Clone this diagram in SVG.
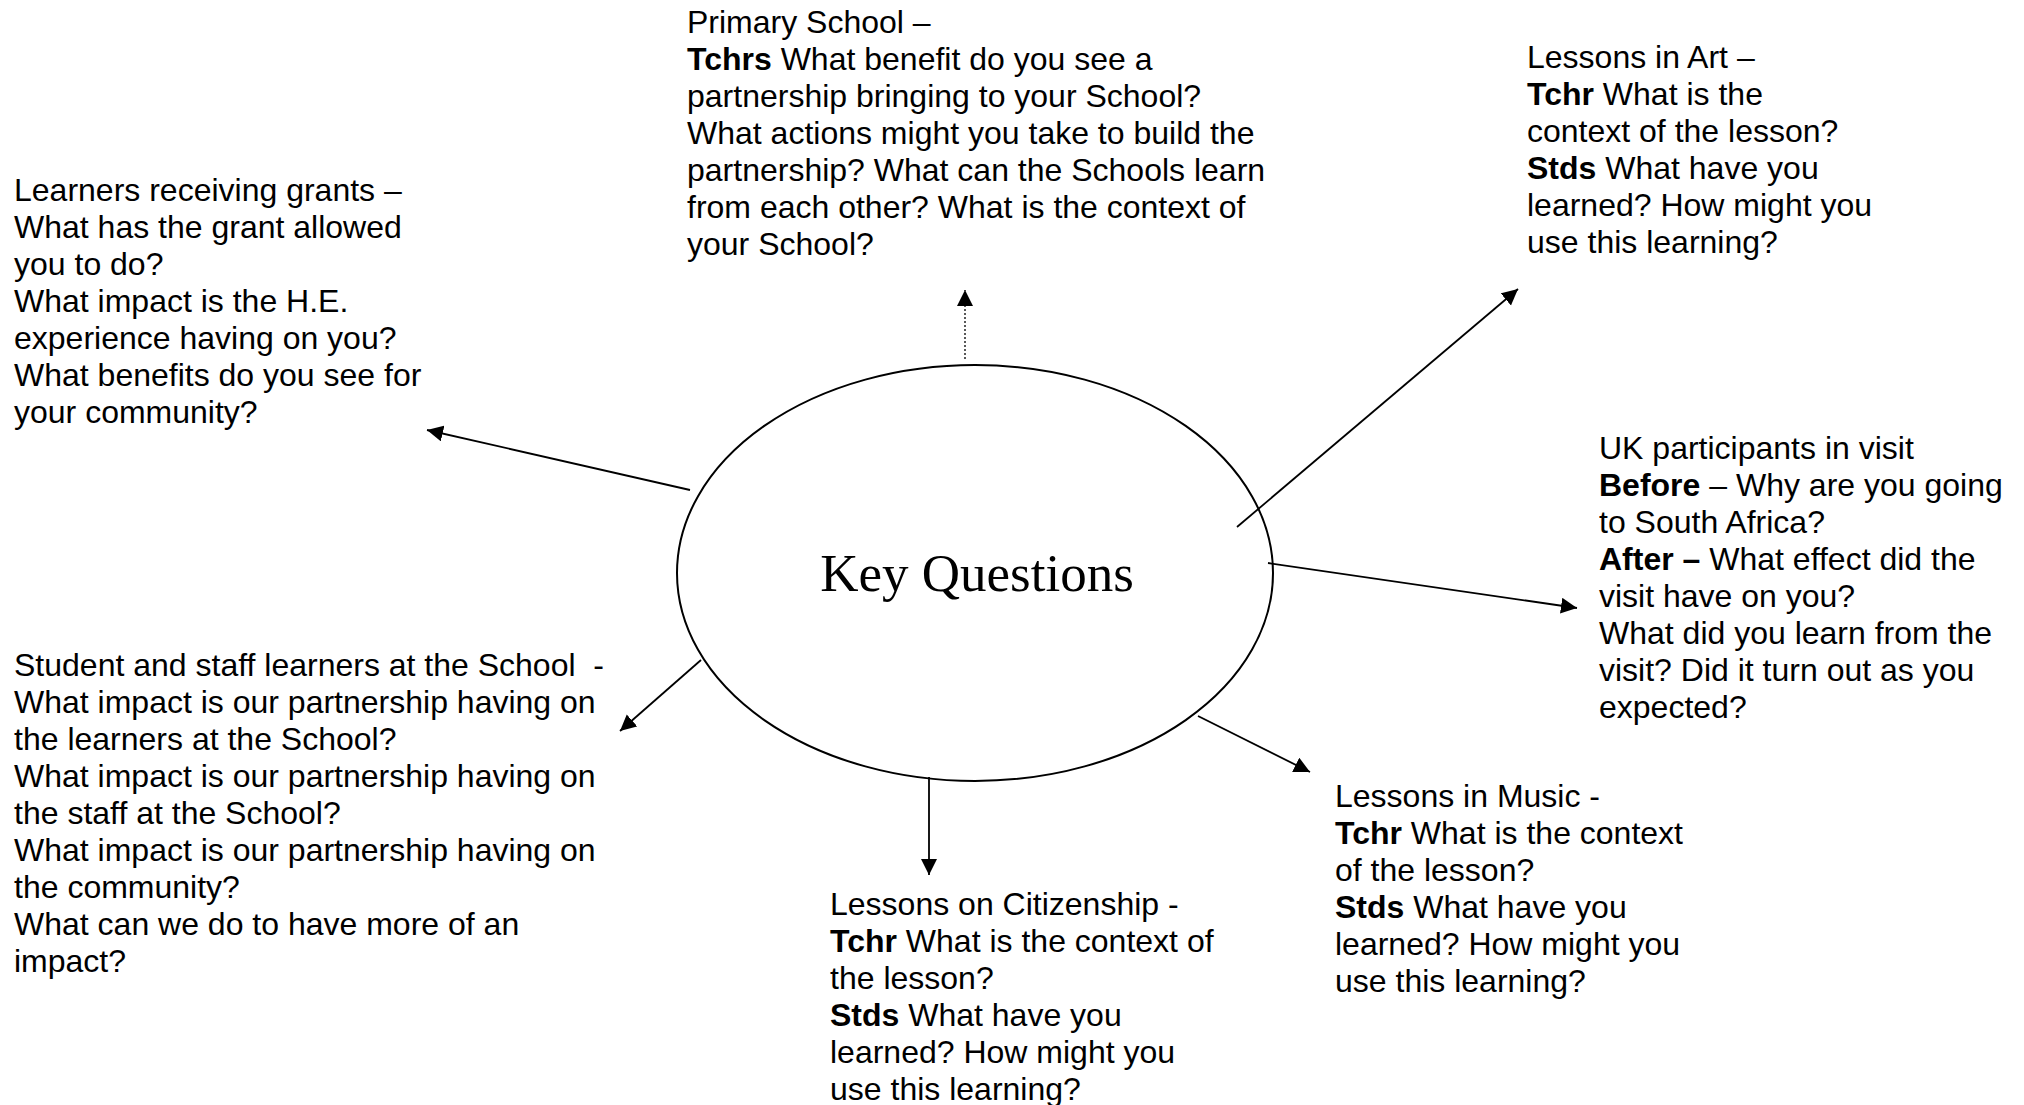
<svg xmlns="http://www.w3.org/2000/svg" width="2024" height="1105" viewBox="0 0 2024 1105">
<style>
.t{font-family:"Liberation Sans",Arial,sans-serif;font-size:32px;fill:#000}
.b{font-weight:bold}
.c{stroke:#000;stroke-width:1.8;fill:none}
.d{stroke:#000;stroke-width:1.3;fill:none;stroke-dasharray:2 2}
.k{font-family:"Liberation Serif","Times New Roman",serif;font-size:53px;fill:#000}
</style>
<defs>
<marker id="ah" markerUnits="userSpaceOnUse" markerWidth="17" markerHeight="17" refX="16" refY="8" orient="auto">
<path d="M0,0 L16,8 L0,16 z" fill="#000"/>
</marker>
</defs>
<rect width="2024" height="1105" fill="#fff"/>
<g id="connectors">
<line class="d" x1="965" y1="359" x2="965" y2="290" marker-end="url(#ah)"/>
<line class="c" x1="690" y1="490" x2="427" y2="430" marker-end="url(#ah)"/>
<line class="c" x1="1237" y1="527" x2="1518" y2="289" marker-end="url(#ah)"/>
<line class="c" x1="1268" y1="563" x2="1577" y2="608" marker-end="url(#ah)"/>
<line class="c" x1="1198" y1="716" x2="1310" y2="772" marker-end="url(#ah)"/>
<line class="c" x1="929" y1="777" x2="929" y2="875" marker-end="url(#ah)"/>
<line class="c" x1="701" y1="660" x2="620" y2="731" marker-end="url(#ah)"/>
</g>
<g id="key-questions">
<ellipse cx="975" cy="573" rx="298" ry="208" fill="none" stroke="#000" stroke-width="2"/>
<text class="k" x="977" y="591" text-anchor="middle">Key Questions</text>
</g>
<g id="primary-school">
<text class="t" x="687" y="33">Primary School –</text>
<text class="t" x="687" y="70"><tspan class="b">Tchrs</tspan> What benefit do you see a</text>
<text class="t" x="687" y="107">partnership bringing to your School?</text>
<text class="t" x="687" y="144">What actions might you take to build the</text>
<text class="t" x="687" y="181">partnership? What can the Schools learn</text>
<text class="t" x="687" y="218">from each other? What is the context of</text>
<text class="t" x="687" y="255">your School?</text>
</g>
<g id="lessons-art">
<text class="t" x="1527" y="68">Lessons in Art –</text>
<text class="t" x="1527" y="105"><tspan class="b">Tchr</tspan> What is the</text>
<text class="t" x="1527" y="142">context of the lesson?</text>
<text class="t" x="1527" y="179"><tspan class="b">Stds</tspan> What have you</text>
<text class="t" x="1527" y="216">learned? How might you</text>
<text class="t" x="1527" y="253">use this learning?</text>
</g>
<g id="learners-grants">
<text class="t" x="14" y="201">Learners receiving grants –</text>
<text class="t" x="14" y="238">What has the grant allowed</text>
<text class="t" x="14" y="275">you to do?</text>
<text class="t" x="14" y="312">What impact is the H.E.</text>
<text class="t" x="14" y="349">experience having on you?</text>
<text class="t" x="14" y="386">What benefits do you see for</text>
<text class="t" x="14" y="423">your community?</text>
</g>
<g id="uk-participants">
<text class="t" x="1599" y="459">UK participants in visit</text>
<text class="t" x="1599" y="496"><tspan class="b">Before</tspan> – Why are you going</text>
<text class="t" x="1599" y="533">to South Africa?</text>
<text class="t" x="1599" y="570"><tspan class="b">After –</tspan> What effect did the</text>
<text class="t" x="1599" y="607">visit have on you?</text>
<text class="t" x="1599" y="644">What did you learn from the</text>
<text class="t" x="1599" y="681">visit? Did it turn out as you</text>
<text class="t" x="1599" y="718">expected?</text>
</g>
<g id="student-staff">
<text class="t" x="14" y="676" xml:space="preserve">Student and staff learners at the School  -</text>
<text class="t" x="14" y="713">What impact is our partnership having on</text>
<text class="t" x="14" y="750">the learners at the School?</text>
<text class="t" x="14" y="787">What impact is our partnership having on</text>
<text class="t" x="14" y="824">the staff at the School?</text>
<text class="t" x="14" y="861">What impact is our partnership having on</text>
<text class="t" x="14" y="898">the community?</text>
<text class="t" x="14" y="935">What can we do to have more of an</text>
<text class="t" x="14" y="972">impact?</text>
</g>
<g id="lessons-music">
<text class="t" x="1335" y="807">Lessons in Music -</text>
<text class="t" x="1335" y="844"><tspan class="b">Tchr</tspan> What is the context</text>
<text class="t" x="1335" y="881">of the lesson?</text>
<text class="t" x="1335" y="918"><tspan class="b">Stds</tspan> What have you</text>
<text class="t" x="1335" y="955">learned? How might you</text>
<text class="t" x="1335" y="992">use this learning?</text>
</g>
<g id="lessons-citizenship">
<text class="t" x="830" y="915">Lessons on Citizenship -</text>
<text class="t" x="830" y="952"><tspan class="b">Tchr</tspan> What is the context of</text>
<text class="t" x="830" y="989">the lesson?</text>
<text class="t" x="830" y="1026"><tspan class="b">Stds</tspan> What have you</text>
<text class="t" x="830" y="1063">learned? How might you</text>
<text class="t" x="830" y="1100">use this learning?</text>
</g>
</svg>
